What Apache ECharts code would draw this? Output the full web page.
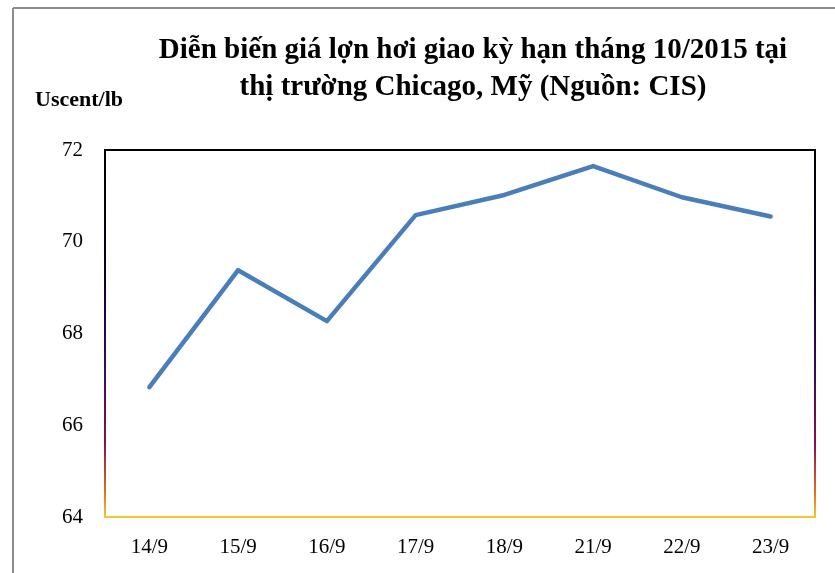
<!DOCTYPE html>
<html>
<head>
<meta charset="utf-8">
<script src="https://cdn.jsdelivr.net/npm/echarts@6/dist/echarts.min.js"></script>
<style>
  html, body { margin: 0; padding: 0; background: #fff; }
  #chart { width: 835px; height: 573px; }
</style>
</head>
<body>
<div id="chart"></div>
<script>
// Lean hog futures (Oct 2015 contract), Chicago, US cents per pound
const days = ['14/9', '15/9', '16/9', '17/9', '18/9', '21/9', '22/9', '23/9'];
const prices = [66.83, 69.38, 68.27, 70.58, 71.02, 71.65, 70.97, 70.55];
const yTicks = { min: 64, max: 72, interval: 2 };

const serif = '"Liberation Serif", "Times New Roman", serif';
const chart = echarts.init(document.getElementById('chart'));

chart.setOption({
  backgroundColor: '#fff',
  animation: false,
  title: {
    text: 'Diễn biến giá lợn hơi giao kỳ hạn tháng 10/2015 tại\nthị trường Chicago, Mỹ (Nguồn: CIS)',
    left: 468,
    top: 27,
    textAlign: 'center',
    textStyle: {
      fontFamily: serif,
      fontWeight: 'bold',
      fontSize: 29,
      lineHeight: 37,
      color: '#000'
    }
  },
  graphic: [
    { type: 'line', shape: { x1: 13, y1: 8, x2: 835, y2: 8 }, style: { stroke: '#8c8c8c', lineWidth: 2 } },
    { type: 'line', shape: { x1: 13, y1: 8, x2: 13, y2: 573 }, style: { stroke: '#8c8c8c', lineWidth: 2 } },
    {
      type: 'text', left: 35, top: 89,
      style: { text: 'Uscent/lb', fontFamily: serif, fontWeight: 'bold', fontSize: 22, fill: '#000' }
    }
  ],
  grid: {
    left: 105, top: 150, right: 20, bottom: 56,
    show: true,
    borderWidth: 2,
    backgroundColor: '#fff',
    borderColor: new echarts.graphic.LinearGradient(0, 0, 0, 1, [
      { offset: 0, color: '#000000' },
      { offset: 0.35, color: '#0d0030' },
      { offset: 0.6, color: '#3a0a5a' },
      { offset: 0.8, color: '#8a1050' },
      { offset: 0.93, color: '#e07020' },
      { offset: 1, color: '#f5c830' }
    ])
  },
  xAxis: {
    type: 'category',
    data: days,
    boundaryGap: true,
    axisLine: { show: false },
    axisTick: { show: false },
    axisLabel: { fontFamily: serif, fontSize: 21, color: '#000', margin: 20 },
    splitLine: { show: false }
  },
  yAxis: {
    type: 'value',
    min: yTicks.min,
    max: yTicks.max,
    interval: yTicks.interval,
    axisLine: { show: false },
    axisTick: { show: false },
    axisLabel: { fontFamily: serif, fontSize: 21, color: '#000', margin: 22 },
    splitLine: { show: false }
  },
  series: [{
    type: 'line',
    data: prices,
    symbol: 'none',
    lineStyle: { color: '#4a7ebb', width: 4.5, cap: 'round', join: 'round' }
  }]
});
</script>
</body>
</html>
